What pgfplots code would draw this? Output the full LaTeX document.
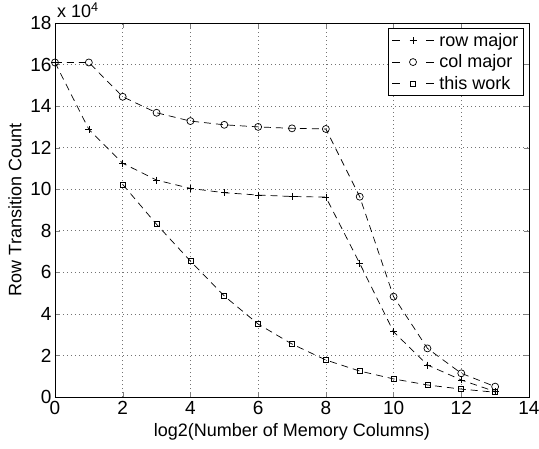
\documentclass[border=0pt]{standalone}
\usepackage{fontspec}
\setmainfont{Liberation Sans}
\usepackage{pgfplots}
\pgfplotsset{compat=1.18}
\begin{document}
\begin{tikzpicture}
\begin{axis}[
  name=ax,
  scale only axis, width=474pt, height=374pt,
  xmin=0, xmax=14, ymin=0, ymax=18,
  xtick={0,2,...,14}, ytick={0,2,...,18},
  tick align=inside, major tick length=5pt,
  xtick pos=both, ytick pos=both,
  grid=major, grid style={dash pattern=on 1pt off 3pt, black!55, line width=0.6pt},
  axis line style={line width=0.9pt},
  /pgf/number format/assume math mode=true,
  tick label style={font=\fontsize{19}{19}\selectfont},
  xticklabel style={yshift=-1pt},
  label style={font=\fontsize{18}{18}\selectfont},
  xlabel={log2(Number of Memory Columns)},
  ylabel={Row Transition Count},
  xlabel style={yshift=-2pt},
  ylabel style={yshift=2pt},
  legend style={at={(0.989,0.987)}, anchor=north east, draw=black, line width=0.8pt,
     font=\fontsize{18}{18}\selectfont, row sep=3pt, inner sep=3pt},
  legend cell align=left,
  legend image code/.code={
    \draw[#1, dash pattern=on 8pt off 26pt] (0pt,0pt) -- (42pt,0pt);
    \draw[#1, solid, only marks] plot coordinates {(21pt,0pt)};
    \path (45pt,0pt);
  },
  every axis plot/.append style={black, line width=0.7pt, dash pattern=on 7pt off 5pt},
]
\addplot[mark=+, mark size=3.5pt, mark options={solid}] coordinates {
(0,16.1) (1,12.88) (2,11.25) (3,10.44) (4,10.04) (5,9.83) (6,9.72) (7,9.65) (8,9.62)
(9,6.43) (10,3.14) (11,1.54) (12,0.82) (13,0.26)};
\addlegendentry{row major}
\addplot[mark=o, mark size=3.5pt, mark options={solid}] coordinates {
(0,16.1) (1,16.1) (2,14.45) (3,13.68) (4,13.28) (5,13.1) (6,13.0) (7,12.93) (8,12.9)
(9,9.64) (10,4.83) (11,2.34) (12,1.14) (13,0.5)};
\addlegendentry{col major}
\addplot[mark=square, mark size=2.5pt, mark options={solid}] coordinates {
(2,10.23) (3,8.31) (4,6.54) (5,4.86) (6,3.51) (7,2.55) (8,1.78) (9,1.25)
(10,0.87) (11,0.58) (12,0.38) (13,0.23)};
\addlegendentry{this work}
\end{axis}
\node[anchor=south west, inner sep=0pt, font=\fontsize{18}{18}\selectfont] at ([xshift=2pt,yshift=5pt]ax.north west) {x 10\textsuperscript{4}};
\pgfresetboundingbox
\useasboundingbox ([shift={(-55pt,-51pt)}]ax.south west) rectangle ([shift={(10pt,23pt)}]ax.north east);
\end{tikzpicture}
\end{document}
